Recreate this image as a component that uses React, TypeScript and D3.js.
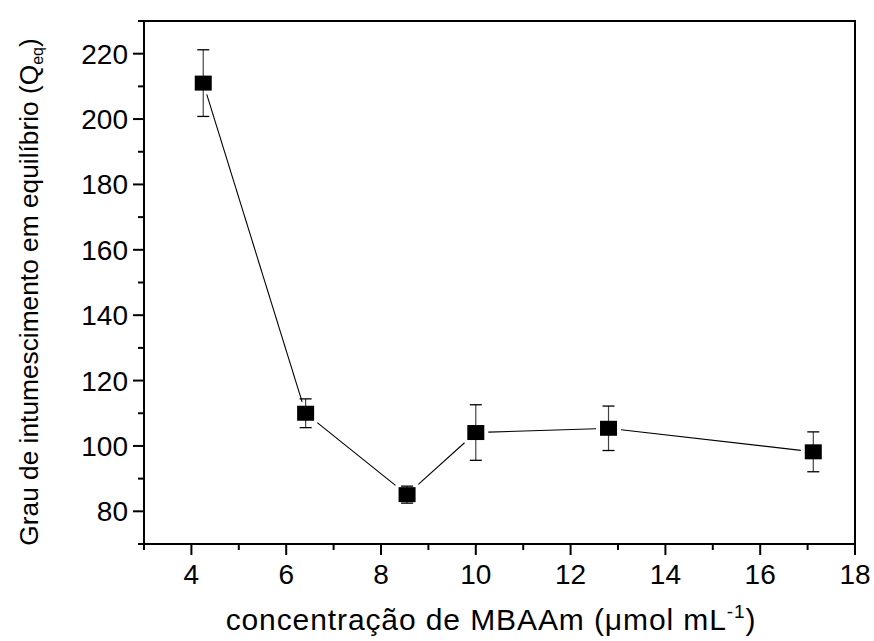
import React from "react";
import * as d3 from "d3";

const concentration = [4.25, 6.41, 8.55, 10.0, 12.8, 17.12];
const swelling = [211, 110, 85.1, 104.1, 105.4, 98.2];
const swellingErr = [10.2, 4.4, 2.6, 8.5, 6.8, 6.1];
const xMajorTicks = [4, 6, 8, 10, 12, 14, 16, 18];
const xMinorTicks = [3, 5, 7, 9, 11, 13, 15, 17];
const yMajorTicks = [80, 100, 120, 140, 160, 180, 200, 220];
const yMinorTicks = [70, 90, 110, 130, 150, 170, 190, 210, 230];

const W = 874;
const H = 641;
const L = 144, R = 855, T = 21, B = 544;
const FONT = "'Liberation Sans', Arial, sans-serif";

export default function App() {
  const x = d3.scaleLinear().domain([3, 18]).range([L, R]);
  const y = d3.scaleLinear().domain([70, 230]).range([B, T]);
  const pts = concentration.map((c, i) => ({ x: x(c), y: y(swelling[i]), e: swellingErr[i], v: swelling[i] }));
  const mw = 17, mh = 15, gap = 4;

  const segs: { x1: number; y1: number; x2: number; y2: number }[] = [];
  for (let i = 0; i < pts.length - 1; i++) {
    const a = pts[i], b = pts[i + 1];
    const dx = b.x - a.x, dy = b.y - a.y;
    const len = Math.hypot(dx, dy);
    const ux = dx / len, uy = dy / len;
    const t = Math.min(mw / 2 / Math.max(Math.abs(ux), 1e-6), mh / 2 / Math.max(Math.abs(uy), 1e-6)) + gap;
    segs.push({ x1: a.x + ux * t, y1: a.y + uy * t, x2: b.x - ux * t, y2: b.y - uy * t });
  }

  return (
    <svg width={W} height={H} style={{ position: "absolute", left: 0, top: 0, background: "#fff" }} fontFamily={FONT}>
      <rect x={0} y={0} width={W} height={H} fill="#fff" />
      {segs.map((s, i) => (
        <line key={"s" + i} x1={s.x1} y1={s.y1} x2={s.x2} y2={s.y2} stroke="#000" strokeWidth={1.1} />
      ))}
      {pts.map((p, i) => {
        const yt = y(p.v + p.e), yb = y(p.v - p.e);
        return (
          <g key={"e" + i}>
            <line x1={p.x} x2={p.x} y1={yt} y2={yb} stroke="#444" strokeWidth={1.2} />
            <line x1={p.x - 6} x2={p.x + 6} y1={yt} y2={yt} stroke="#000" strokeWidth={1.3} />
            <line x1={p.x - 6} x2={p.x + 6} y1={yb} y2={yb} stroke="#000" strokeWidth={1.3} />
          </g>
        );
      })}
      {pts.map((p, i) => (
        <rect key={"m" + i} x={p.x - mw / 2} y={p.y - mh / 2} width={mw} height={mh} fill="#000" />
      ))}
      <rect x={L} y={T} width={R - L} height={B - T} fill="none" stroke="#000" strokeWidth={2} />
      {xMajorTicks.map((t) => (
        <g key={"xt" + t}>
          <line x1={x(t)} x2={x(t)} y1={B} y2={B + 11} stroke="#000" strokeWidth={2} />
          <text x={x(t)} y={B + 40} fontSize={28} textAnchor="middle" fill="#000">{t}</text>
        </g>
      ))}
      {xMinorTicks.map((t) => (
        <line key={"xm" + t} x1={x(t)} x2={x(t)} y1={B} y2={B + 6} stroke="#000" strokeWidth={2} />
      ))}
      {yMajorTicks.map((t) => (
        <g key={"yt" + t}>
          <line x1={L} x2={L - 11} y1={y(t)} y2={y(t)} stroke="#000" strokeWidth={2} />
          <text x={L - 16} y={y(t) + 10} fontSize={28} textAnchor="end" fill="#000">{t}</text>
        </g>
      ))}
      {yMinorTicks.map((t) => (
        <line key={"ym" + t} x1={L} x2={L - 6} y1={y(t)} y2={y(t)} stroke="#000" strokeWidth={2} />
      ))}
      <text x={491} y={630} fontSize={30} letterSpacing={0.9} textAnchor="middle" fill="#000">
        concentração de MBAAm (μmol mL
        <tspan dy={-12} fontSize={19}>-1</tspan>
        <tspan dy={12}>)</tspan>
      </text>
      <text transform={`translate(38, 292) rotate(-90)`} fontSize={26.3} textAnchor="middle" fill="#000">
        Grau de intumescimento em equilíbrio (Q
        <tspan dy={5} fontSize={16}>eq</tspan>
        <tspan dy={-5}>)</tspan>
      </text>
    </svg>
  );
}
